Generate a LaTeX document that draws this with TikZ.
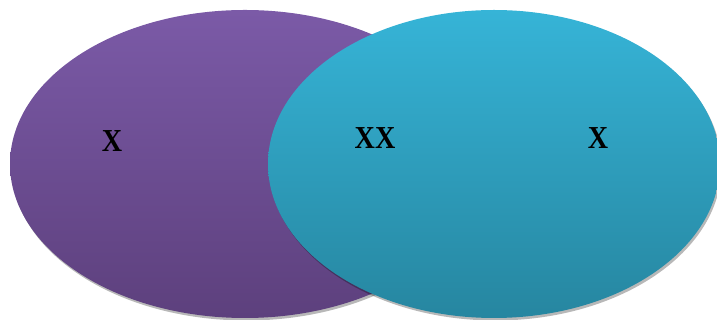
\documentclass[tikz,border=0pt]{standalone}
\usepackage{fontspec}
\setmainfont{Liberation Serif}
\usetikzlibrary{shapes.geometric}
\definecolor{purpTop}{HTML}{7B5AA7}
\definecolor{purpBot}{HTML}{5D407D}
\definecolor{blueTop}{HTML}{36B4D7}
\definecolor{blueBot}{HTML}{2686A0}
\newcommand{\lbltext}[1]{\scalebox{0.88}[1]{#1}}
\tikzset{
  setshape/.style={ellipse, inner sep=0pt, minimum height=308pt},
  shadowshape/.style={ellipse, inner sep=0pt, minimum height=308pt, fill=black, opacity=0.28},
  lbl/.style={font=\fontsize{32}{33}\selectfont\bfseries, text=black, inner sep=0pt}
}
\begin{document}
\begin{tikzpicture}[x=1pt,y=1pt]
\useasboundingbox (0,0) rectangle (717,320);
\node[shadowshape, minimum width=470pt] (ps) at (246.5,153.5) {};
\node[setshape, minimum width=470pt, top color=purpTop, bottom color=purpBot] (purple) at (245,156) {};
\node[shadowshape, minimum width=452pt] (bs) at (495.5,153.5) {};
\node[setshape, minimum width=452pt, top color=blueTop, bottom color=blueBot] (blue) at (494,156) {};
\node[lbl] (l1) at (112,179) {\lbltext{X}};
\node[lbl] (l2) at (375,182) {\lbltext{XX}};
\node[lbl] (l3) at (598,182) {\lbltext{X}};
\end{tikzpicture}
\end{document}
